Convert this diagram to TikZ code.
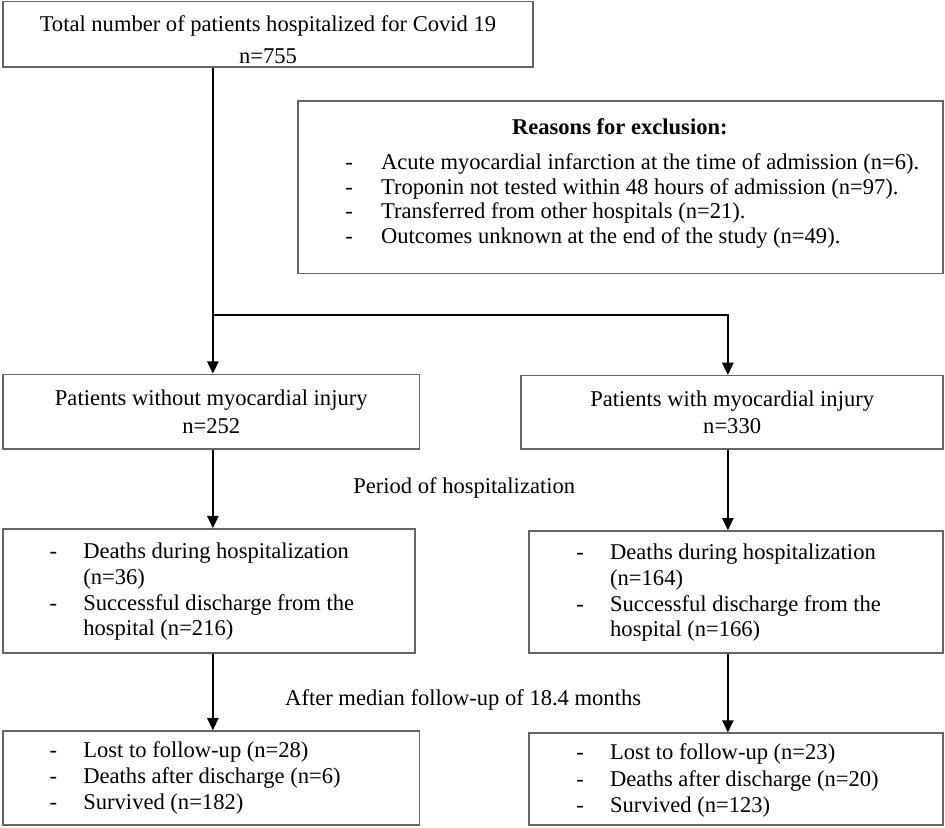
\documentclass[tikz,border=0pt]{standalone}
\usepackage{fontspec}
\setmainfont{Liberation Serif}
\usetikzlibrary{arrows.meta}

\begin{document}
\begin{tikzpicture}[
        box/.style = {draw = black!60, line width = 0.8pt, inner sep = 0pt, align = center, font = \fontsize{12}{14.6}\selectfont},
        list/.style = {anchor = west, inner sep = 0pt, font = \fontsize{12}{13.7}\selectfont},
        arrow/.style = {line width = 0.9pt, -{Triangle[length = 6.5pt, width = 6pt]}}]

        \useasboundingbox (0, 0) rectangle (17.67, -15.48);
        \draw (5.01, -0.64) node[box, minimum width = 9.91cm, minimum height = 1.23cm, font = \fontsize{12}{17}\selectfont] (total) {\rule{0pt}{14pt}Total number of patients hospitalized for Covid 19\\n=755};
        \draw (11.60, -3.50) node[box, minimum width = 12.06cm, minimum height = 3.22cm] (excl) {};
        \draw (3.95, -7.70) node[box, minimum width = 7.78cm, minimum height = 1.40cm] (nomi) {Patients without myocardial injury\\n=252};
        \draw (13.69, -7.71) node[box, minimum width = 7.89cm, minimum height = 1.37cm] (withmi) {Patients with myocardial injury\\n=330};
        \draw (3.91, -11.05) node[box, minimum width = 7.70cm, minimum height = 2.32cm] (nohosp) {};
        \draw (13.76, -11.07) node[box, minimum width = 7.74cm, minimum height = 2.28cm] (wihosp) {};
        \draw (3.95, -14.55) node[box, minimum width = 7.78cm, minimum height = 1.76cm] (nofollow) {};
        \draw (13.76, -14.57) node[box, minimum width = 7.74cm, minimum height = 1.72cm] (wifollow) {};

        \node [font = \fontsize{12}{14}\selectfont\bfseries] at (11.59, -2.37) (exclhead) {Reasons for exclusion:};
        \node [list, font = \fontsize{12}{13}\selectfont] at (6.45, -3.77) (excllist) {\begin{tabular}{@{}p{19pt}@{}l@{}}
            - & Acute myocardial infarction at the time of admission (n=6).\\
            - & Troponin not tested within 48 hours of admission (n=97).\\
            - & Transferred from other hospitals (n=21).\\
            - & Outcomes unknown at the end of the study (n=49).
        \end{tabular}};
        \node [list] at (0.92, -11.07) (nohosplist) {\begin{tabular}{@{}p{18pt}@{}l@{}}
            - & Deaths during hospitalization\\ & (n=36)\\
            - & Successful discharge from the\\ & hospital (n=216)
        \end{tabular}};
        \node [list] at (10.77, -11.09) (wihosplist) {\begin{tabular}{@{}p{18pt}@{}l@{}}
            - & Deaths during hospitalization\\ & (n=164)\\
            - & Successful discharge from the\\ & hospital (n=166)
        \end{tabular}};
        \node [list, font = \fontsize{12}{14}\selectfont] at (0.92, -14.55) (nofollowlist) {\begin{tabular}{@{}p{18pt}@{}l@{}}
            - & Lost to follow-up (n=28)\\
            - & Deaths after discharge (n=6)\\
            - & Survived (n=182)
        \end{tabular}};
        \node [list, font = \fontsize{12}{14}\selectfont] at (10.77, -14.60) (wifollowlist) {\begin{tabular}{@{}p{18pt}@{}l@{}}
            - & Lost to follow-up (n=23)\\
            - & Deaths after discharge (n=20)\\
            - & Survived (n=123)
        \end{tabular}};
        \node [font = \fontsize{12}{14}\selectfont] at (8.68, -9.13) (period) {Period of hospitalization};
        \node [font = \fontsize{12}{14}\selectfont] at (8.66, -13.09) (followup) {After median follow-up of 18.4 months};

        \coordinate (split) at (3.98, -5.89);
        \coordinate (turn) at (13.61, -5.89);
        \draw [arrow] (total.south -| split) to (nomi.north -| split);
        \draw [arrow] (split) to (turn) to (withmi.north -| turn);
        \draw [arrow] (nomi.south -| split) to (nohosp.north -| split);
        \draw [arrow] (withmi.south -| turn) to (wihosp.north -| turn);
        \draw [arrow] (nohosp.south -| split) to (nofollow.north -| split);
        \draw [arrow] (wihosp.south -| turn) to (wifollow.north -| turn);

\end{tikzpicture}
\end{document}
